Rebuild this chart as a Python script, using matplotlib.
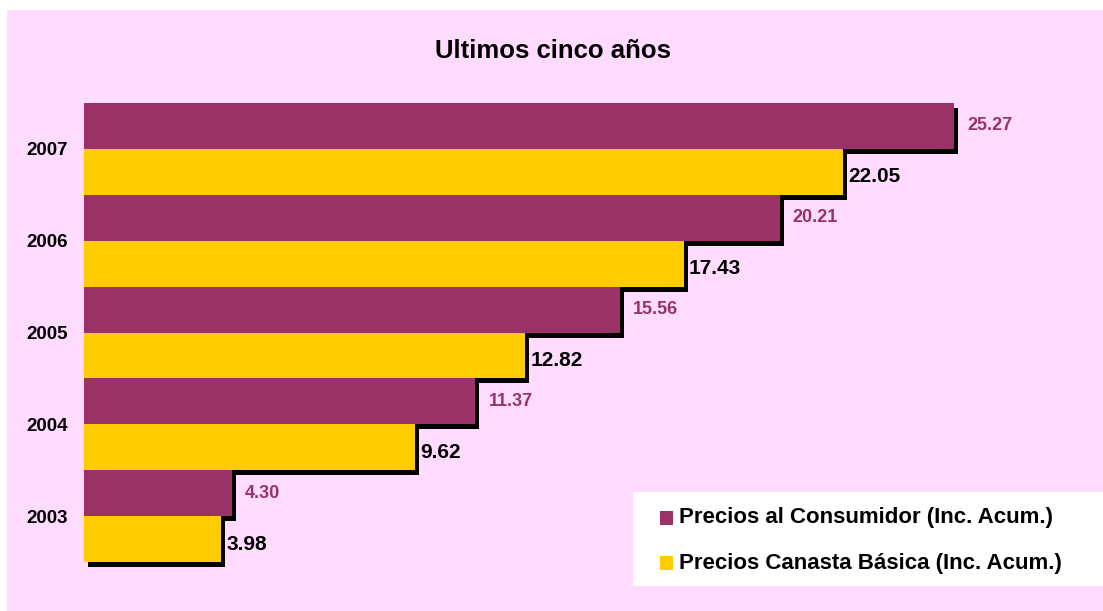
import matplotlib
matplotlib.use("Agg")
import matplotlib.pyplot as plt
from matplotlib.patches import Rectangle
from matplotlib.transforms import offset_copy
import numpy as np

plt.rcParams['font.family'] = ['Liberation Sans', 'DejaVu Sans']

# datos
years = ['2003', '2004', '2005', '2006', '2007']
consumidor = [4.30, 11.37, 15.56, 20.21, 25.27]
canasta = [3.98, 9.62, 12.82, 17.43, 22.05]
series_names = ['Precios al Consumidor (Inc. Acum.)', 'Precios Canasta Básica (Inc. Acum.)']
title = 'Ultimos cinco años'

purple = '#993366'
yellow = '#FFCC00'
pink = '#FFDBFF'

W, H = 1103, 611
fig = plt.figure(figsize=(W / 100, H / 100), dpi=100)
fig.patch.set_facecolor('white')
# fondo rosa (deja franja blanca arriba e izquierda)
fig.patches.append(Rectangle((7 / W, 0), 1, 1 - 10 / H, transform=fig.transFigure,
                             facecolor=pink, edgecolor='none', zorder=-5))

ax = fig.add_axes([84 / W, 49 / H, 964 / W, 459 / H])
ax.set_facecolor('none')

y = np.arange(len(years))
h = 0.5
y_p = y + 0.25
y_c = y - 0.25

# sombras
shadow_tr = offset_copy(ax.transData, fig=fig, x=4, y=-5, units='dots')
for vals, pos in [(consumidor, y_p), (canasta, y_c)]:
    sh = ax.barh(pos, vals, height=h, color='black', zorder=1, clip_on=False)
    for p in sh:
        p.set_transform(shadow_tr)

ax.barh(y_p, consumidor, height=h, color=purple, zorder=2)
ax.barh(y_c, canasta, height=h, color=yellow, zorder=2)

for v, pos in zip(consumidor, y_p):
    ax.annotate(f'{v:.2f}', (v, pos), xytext=(13 * 0.72, 0), textcoords='offset points',
                ha='left', va='center', color=purple, fontsize=13, fontweight='bold')
for v, pos in zip(canasta, y_c):
    ax.annotate(f'{v:.2f}', (v, pos), xytext=(5 * 0.72, -5 * 0.72), textcoords='offset points',
                ha='left', va='center', color='black', fontsize=15, fontweight='bold')

ax.set_xlim(0, 28)
ax.set_ylim(-0.5, 4.5)
ax.set_yticks(y)
ax.set_yticklabels(years, fontsize=13.5, fontweight='bold')
ax.tick_params(axis='y', length=0, pad=11.5)
ax.set_xticks([])
for s in ax.spines.values():
    s.set_visible(False)

fig.text(553 / W, 1 - 51 / H, title, ha='center', va='center', fontsize=18.5, fontweight='bold')

# leyenda
fig.patches.append(Rectangle((633 / W, 25 / H), (W - 633) / W, 94 / H, transform=fig.transFigure,
                             facecolor='white', edgecolor='none', zorder=3))
for name, col, yc in zip(series_names, [purple, yellow], [518, 563]):
    fig.patches.append(Rectangle((660 / W, 1 - (yc + 7) / H), 13 / W, 14 / H,
                                 transform=fig.transFigure, facecolor=col, edgecolor='none', zorder=4))
    fig.text(679 / W, 1 - yc / H, name, ha='left', va='center', fontsize=16,
             fontweight='bold', zorder=5)

fig.savefig('out.png', dpi=100, facecolor=fig.get_facecolor())
